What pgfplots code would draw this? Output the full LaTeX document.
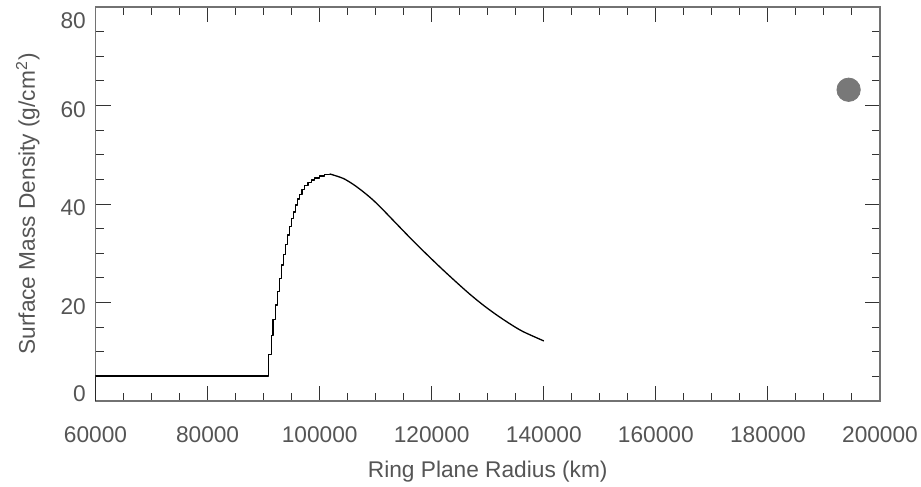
\documentclass[border=0pt]{standalone}
\usepackage{pgfplots}
\pgfplotsset{compat=1.18}
\usepackage{fontspec}
\setmainfont{Liberation Sans}
\definecolor{txt}{HTML}{555555}
\definecolor{spine}{HTML}{727272}
\definecolor{tickc}{HTML}{333333}
\definecolor{dot}{HTML}{787878}
\begin{document}
\fontsize{11.35}{13.6}\selectfont
\begin{tikzpicture}[font=\fontsize{11.35}{13.6}\selectfont]
\useasboundingbox (-47.75pt,-43pt) rectangle (412.75pt,200.5pt);
\begin{axis}[
  at={(0pt,0pt)}, anchor=south west,
  scale only axis, width=392.25pt, height=197pt,
  xmin=60000, xmax=200000, ymin=0, ymax=80,
  xtick={60000,80000,100000,120000,140000,160000,180000,200000},
  xticklabels={60000,80000,100000,120000,140000,160000,180000,200000},
  ytick={0,20,40,60,80},
  yticklabels={{\raisebox{5.5pt}[\height][\depth]{0}},20,40,60,{\raisebox{-5pt}[\height][\depth]{80}}},
  minor x tick num=3, minor y tick num=3,
  tick align=inside,
  major tick length=7.5pt, minor tick length=4pt,
  axis line style={color=spine, line width=0.8pt},
  tick style={color=tickc, line width=0.5pt},
  xticklabel style={anchor=base, inner sep=0pt, yshift=-20.85pt, text=txt},
  yticklabel style={anchor=east, inner sep=0pt, xshift=-4.65pt, yshift=-2pt, text=txt},
  clip=true,
]
\addplot[const plot, black, line width=0.65pt, line join=round] coordinates {
(60000,0) (60000,5.1) (90900,9.5) (91350,13.3) (91650,16.6) (92070,19.5)
(92420,22.3) (92780,24.9) (93140,27.6) (93490,29.8) (93850,31.8) (94210,33.7)
(94560,35.4) (94920,37.1) (95280,38.4) (95630,39.8) (95990,41.0) (96420,42.0)
(96830,42.9) (97310,43.7) (97900,44.4) (98490,44.9) (99090,45.3) (99980,45.7)
(100870,46.0) (101760,46.1)
};
\addplot[black, line width=0.65pt, line join=round, smooth, tension=0.5] coordinates {
(101760,46.1) (102120,46.0) (104190,45.2) (105980,44.0) (107760,42.5)
(109540,40.8) (111330,38.8) (113110,36.7) (114890,34.6) (116680,32.5)
(118460,30.5) (120550,28.2) (122030,26.6) (124420,24.1) (126790,21.7)
(129160,19.5) (131550,17.5) (133920,15.7) (136290,14.1) (140000,12.2)
};
\addplot[dot, only marks, mark=*, mark size=5.85pt, mark options={fill=dot, draw=none}] coordinates {(194400,63.2)};
\end{axis}
\node[rotate=90, anchor=base, text=txt, inner sep=0pt] at (-30.25pt,98.5pt) {Surface Mass Density (g/cm\textsuperscript{2})};
\node[anchor=base, text=txt, inner sep=0pt] at (196.125pt,-38.25pt) {Ring Plane Radius (km)};
\end{tikzpicture}
\end{document}
